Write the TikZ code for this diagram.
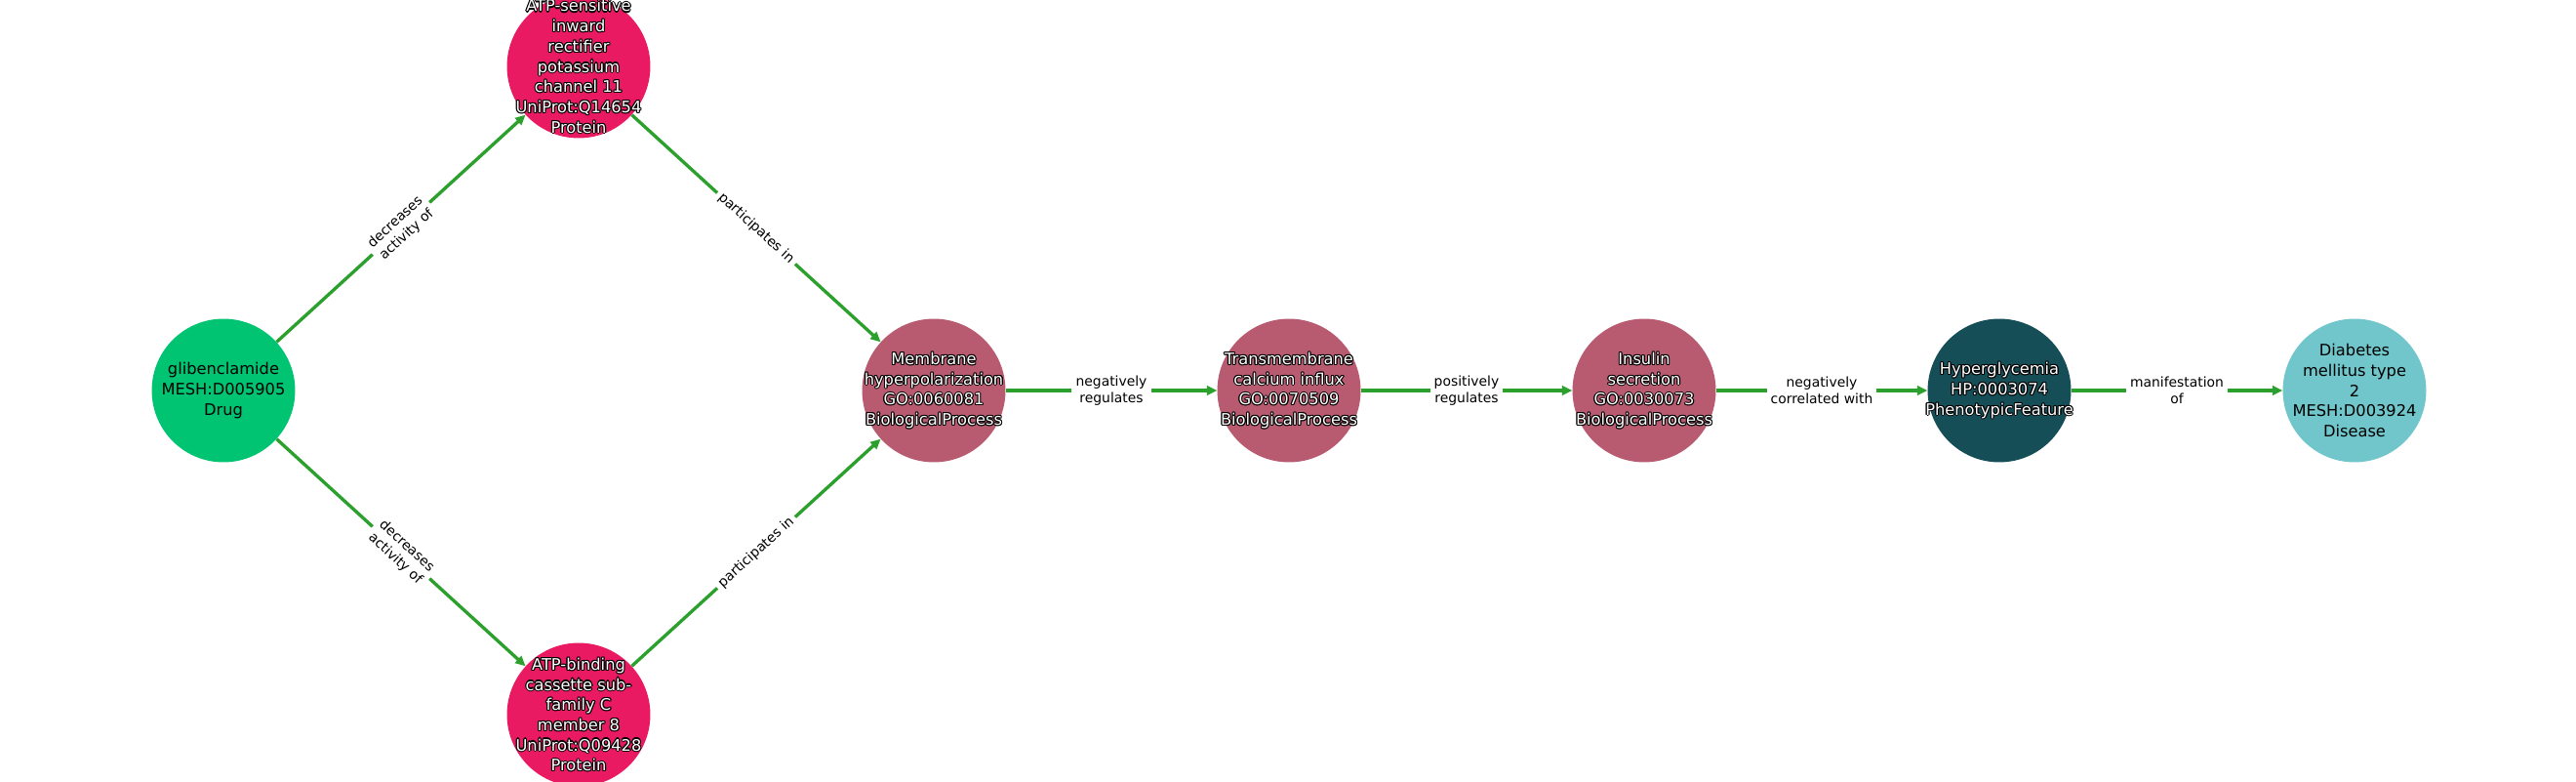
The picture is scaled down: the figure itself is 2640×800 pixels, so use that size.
\documentclass[tikz,border=0pt]{standalone}
\usepackage{fontspec}
\setmainfont{DejaVu Sans}
\usetikzlibrary{arrows.meta}
\definecolor{drugc}{HTML}{00C472}
\definecolor{protc}{HTML}{E91A62}
\definecolor{bpc}{HTML}{B85A70}
\definecolor{phenoc}{HTML}{154E56}
\definecolor{disc}{HTML}{70C6CA}
\definecolor{edgec}{HTML}{2CA02C}
\newcommand\hcp[3]{\rlap{\kern#1\raisebox{#2}{\textcolor{black}{#3}}}}
\newcommand\halo[1]{\leavevmode\hcp{.8pt}{0pt}{#1}\hcp{-.8pt}{0pt}{#1}\hcp{0pt}{.8pt}{#1}\hcp{0pt}{-.8pt}{#1}\hcp{.57pt}{.57pt}{#1}\hcp{-.57pt}{.57pt}{#1}\hcp{.57pt}{-.57pt}{#1}\hcp{-.57pt}{-.57pt}{#1}\textcolor{white}{#1}}
\tikzset{
  circ/.style={circle, minimum size=105.8pt, inner sep=0pt, draw=none},
  ntext/.style={align=center, inner sep=0pt, font=\fontsize{11.7}{14.9}\selectfont},
  edge/.style={draw=edgec, line width=2.4pt, -{Triangle[length=7.4pt,width=6.8pt]}},
  lbl/.style={midway, sloped, fill=white, inner sep=3pt, align=center, text=black, font=\fontsize{10}{12.4}\selectfont}
}
\begin{document}
\begin{tikzpicture}[x=0.72pt, y=0.72pt]
\fill[white] (0,0) rectangle (2640,800);
\useasboundingbox (0,0) rectangle (2640,800);
\node[circ, fill=drugc] (n1) at (229,400) {};
\node[circ, fill=protc] (n2) at (593,732) {};
\node[circ, fill=protc] (n3) at (593,68) {};
\node[circ, fill=bpc] (n4) at (957,400) {};
\node[circ, fill=bpc] (n5) at (1321,400) {};
\node[circ, fill=bpc] (n6) at (1685,400) {};
\node[circ, fill=phenoc] (n7) at (2049,400) {};
\node[circ, fill=disc] (n8) at (2413,400) {};
\draw[edge] (n1) -- node[lbl] (l1) {decreases\\activity of} (n2);
\draw[edge] (n1) -- node[lbl] (l2) {decreases\\activity of} (n3);
\draw[edge] (n2) -- node[lbl] (l3) {participates in} (n4);
\draw[edge] (n3) -- node[lbl] (l4) {participates in} (n4);
\draw[edge] (n4) -- node[lbl] (l5) {negatively\\regulates} (n5);
\draw[edge] (n5) -- node[lbl] (l6) {positively\\regulates} (n6);
\draw[edge] (n6) -- node[lbl] (l7) {negatively\\correlated with} (n7);
\draw[edge] (n7) -- node[lbl] (l8) {manifestation\\of} (n8);
\node[ntext] (t1) at (n1) {glibenclamide\\MESH:D005905\\Drug};
\node[ntext] (t2) at (n2) {\halo{ATP-sensitive}\\\halo{inward}\\\halo{rectifier}\\\halo{potassium}\\\halo{channel 11}\\\halo{UniProt:Q14654}\\\halo{Protein}};
\node[ntext] (t3) at (n3) {\halo{ATP-binding}\\\halo{cassette sub-}\\\halo{family C}\\\halo{member 8}\\\halo{UniProt:Q09428}\\\halo{Protein}};
\node[ntext] (t4) at (n4) {\halo{Membrane}\\\halo{hyperpolarization}\\\halo{GO:0060081}\\\halo{BiologicalProcess}};
\node[ntext] (t5) at (n5) {\halo{Transmembrane}\\\halo{calcium influx}\\\halo{GO:0070509}\\\halo{BiologicalProcess}};
\node[ntext] (t6) at (n6) {\halo{Insulin}\\\halo{secretion}\\\halo{GO:0030073}\\\halo{BiologicalProcess}};
\node[ntext] (t7) at (n7) {\halo{Hyperglycemia}\\\halo{HP:0003074}\\\halo{PhenotypicFeature}};
\node[ntext] (t8) at (n8) {Diabetes\\mellitus type\\2\\MESH:D003924\\Disease};
\end{tikzpicture}
\end{document}
